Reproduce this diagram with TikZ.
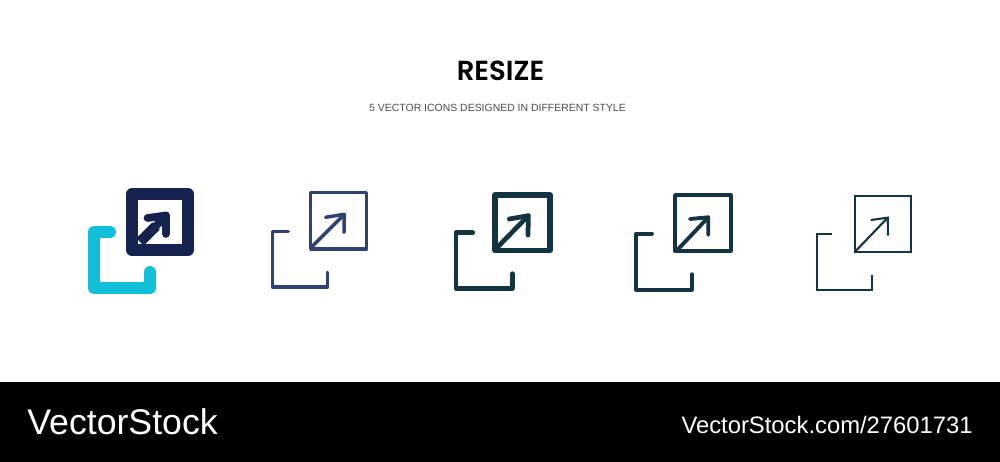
\documentclass[tikz,border=0pt]{standalone}
\usepackage{fontspec}
\setmainfont{Liberation Sans}
\newfontfamily\titlefont{Poppins SemiBold}
\usepackage{xcolor}
\definecolor{navy}{HTML}{162350}
\definecolor{cyanline}{HTML}{12BFD8}
\definecolor{slateline}{HTML}{2E4372}
\definecolor{tealdark}{HTML}{153441}
\tikzset{
    iconline/.style={line cap=round, line join=round},
    banner/.style={text=white, inner sep=0pt},
}
\begin{document}
\begin{tikzpicture}[x=0.02cm, y=-0.02cm]
    \useasboundingbox (0,0) rectangle (1000,462);
    \fill[black] (0,382) rectangle (1000,462);

    % Headings
    \node[inner sep=0pt, font=\titlefont\fontsize{15.7}{17}\selectfont] (title) at (500.5,70.5) {RESIZE};
    \node[inner sep=0pt, text=black!70, font=\fontsize{5.95}{8}\selectfont] (subtitle) at (497.5,108) {5 VECTOR ICONS DESIGNED IN DIFFERENT STYLE};

    % Icon 1, flat
    \draw[iconline, cyanline, line width=6.8pt] (110,232) -- (94,232) -- (94,288) -- (150,288) -- (150,272);
    \draw[iconline, navy, line width=6.8pt] (132,194) rectangle (188,250);
    \draw[navy, line width=6pt] (140,242) -- (156,226);
    \draw[iconline, navy, line width=4.4pt] (156,226) -- (166,215.5);
    \draw[iconline, navy, line width=4.4pt] (147.5,218) -- (166,215.5) -- (166,234);

    % Icon 2, outline
    \draw[iconline, slateline, line width=2pt] (288.3,231.7) -- (272.3,231.7) -- (272.3,287) -- (327.7,287) -- (327.7,272.3);
    \draw[iconline, slateline, line width=2pt] (310.7,192.7) rectangle (366.7,249);
    \draw[iconline, slateline, line width=2pt] (311.7,247) -- (344.3,214.3);
    \draw[iconline, slateline, line width=2pt] (325.7,217.3) -- (344.3,214.3) -- (344,232.3);

    % Icon 3, bold
    \draw[iconline, tealdark, line width=2.7pt] (472.7,232.7) -- (456,232.7) -- (456,288.3) -- (512.3,288.3) -- (512.3,273.7);
    \draw[iconline, tealdark, line width=2.9pt] (495,195) rectangle (550,250.3);
    \draw[iconline, tealdark, line width=2.7pt] (498,246.7) -- (528.3,215.7);
    \draw[iconline, tealdark, line width=2.7pt] (509.3,219) -- (528.3,215.7) -- (528,235);

    % Icon 4, medium
    \draw[iconline, tealdark, line width=2.2pt] (652,233.7) -- (636,233.7) -- (636,289.7) -- (691.7,289.7) -- (691.7,274.3);
    \draw[iconline, tealdark, line width=2.2pt] (675,195) rectangle (730.7,251);
    \draw[iconline, tealdark, line width=2.2pt] (677.3,250) -- (708.3,217.3);
    \draw[iconline, tealdark, line width=2.2pt] (690,219) -- (708.3,217.3) -- (708.3,235);

    % Icon 5, thin
    \draw[tealdark, line width=1.2pt, line join=miter] (832,234.3) -- (816.7,234.3) -- (816.7,289.7) -- (872.3,289.7) -- (872.3,275);
    \draw[tealdark, line width=1.2pt, line join=miter] (855,196) rectangle (910.7,251.7);
    \draw[tealdark, line width=1.2pt] (855.7,251) -- (887.7,217.7);
    \draw[tealdark, line width=1.2pt, line join=miter] (870.7,220) -- (887.7,217.7) -- (888,235.7);

    % Footer
    \node[banner, anchor=west, font=\fontsize{20.3}{22}\selectfont] (brand) at (27,421.5) {VectorStock};
    \node[banner, anchor=east, font=\fontsize{13.55}{16}\selectfont] (stockurl) at (973,424.5) {VectorStock.com/27601731};
\end{tikzpicture}
\end{document}
